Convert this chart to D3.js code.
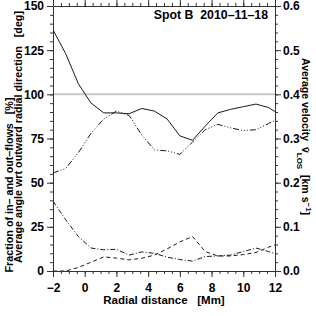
<!DOCTYPE html>
<html>
<head>
<meta charset="utf-8">
<script src="https://cdn.jsdelivr.net/npm/d3@7"></script>
<style>
  html, body { margin: 0; padding: 0; background: #fff; }
  svg { display: block; font-family: "Liberation Sans", Arial, sans-serif; font-weight: bold; }
</style>
</head>
<body>
<svg id="chart" width="316" height="316"></svg>
<script>
// radial distance samples [Mm]
const radius = [-2, -1.2, -0.4, 0.4, 1.2, 2.0, 2.8, 3.6, 4.4, 5.2, 6.0, 6.8, 7.6, 8.4, 9.2, 10.0, 10.8, 11.6, 12.4];
// average angle wrt outward radial direction [deg]
const angle = [136.5, 123, 106, 95, 89.5, 89.5, 89, 92, 90.5, 86, 76.5, 74, 82, 89.5, 91.5, 93, 94.5, 92.5, 88];
// average LOS velocity [km/s]
const velocity = [0.222, 0.232, 0.268, 0.312, 0.344, 0.362, 0.352, 0.308, 0.274, 0.272, 0.264, 0.292, 0.320, 0.332, 0.324, 0.318, 0.320, 0.334, 0.348];
// fraction of flows [%]
const fractionA = [39.5, 29, 19.5, 13, 12, 12.3, 9, 10.8, 10, 7.8, 6.5, 5.6, 8.2, 8.5, 9, 11, 13, 11, 8.5];
const fractionB = [0, 0, 2, 5, 8, 7.3, 6.3, 7.2, 9, 12.5, 16.5, 19.5, 11, 8.5, 8.5, 9.3, 10.5, 13.5, 16];

const leftTicks = [0, 25, 50, 75, 100, 125, 150];
const rightTicks = [0, 0.1, 0.2, 0.3, 0.4, 0.5, 0.6];
const xTicks = [-2, 0, 2, 4, 6, 8, 10, 12];

const svg = d3.select('#chart');
const pLeft = 53, pRight = 275, pTop = 6, pBottom = 271;
const axisColor = '#333';

const x = d3.scaleLinear().domain([-2, 12]).range([pLeft, pRight]);
const yL = d3.scaleLinear().domain([0, 150]).range([pBottom, pTop]);
const yR = d3.scaleLinear().domain([0, 0.6]).range([pBottom, pTop]);

svg.append('clipPath').attr('id', 'plotClip')
  .append('rect')
  .attr('x', pLeft).attr('y', pTop)
  .attr('width', pRight - pLeft).attr('height', pBottom - pTop);

// reference line at 100
svg.append('line')
  .attr('x1', pLeft).attr('x2', pRight)
  .attr('y1', yL(100)).attr('y2', yL(100))
  .attr('stroke', '#c8c8c8').attr('stroke-width', 2);

// draw one axis with major + minor ticks
function drawAxis(axisFn, scale, major, minor, transform, fmt, pad) {
  svg.append('g')
    .attr('transform', transform)
    .call(axisFn(scale).tickValues(minor).tickSize(3).tickFormat(''))
    .call(g => g.select('.domain').remove())
    .call(g => g.selectAll('line').attr('stroke', axisColor));
  const g = svg.append('g')
    .attr('transform', transform)
    .call(axisFn(scale).tickValues(major).tickSizeInner(6).tickSizeOuter(0).tickPadding(pad).tickFormat(fmt));
  g.select('.domain').attr('stroke', axisColor);
  g.selectAll('line').attr('stroke', axisColor);
  g.selectAll('text')
    .attr('fill', '#000')
    .style('font-family', '"Liberation Sans", Arial, sans-serif')
    .style('font-weight', 'bold')
    .style('font-size', '12px');
  return g;
}

const xMinor = d3.range(-2, 12.01, 0.5);
drawAxis(d3.axisBottom, x, xTicks, xMinor, `translate(0,${pBottom})`, d3.format('d'), 6);
drawAxis(d3.axisTop, x, xTicks, xMinor, `translate(0,${pTop})`, () => '', 2);
drawAxis(d3.axisLeft, yL, leftTicks, d3.range(0, 150.1, 5), `translate(${pLeft},0)`, d3.format('d'), 3);
drawAxis(d3.axisRight, yR, rightTicks, d3.range(0, 0.601, 0.02), `translate(${pRight},0)`, d3.format('.1f'), 2);

// curves
const plot = svg.append('g').attr('clip-path', 'url(#plotClip)');
function curve(values, yScale, dash) {
  const line = d3.line()
    .x((d, i) => x(radius[i]))
    .y(d => yScale(d));
  plot.append('path')
    .datum(values)
    .attr('d', line)
    .attr('fill', 'none')
    .attr('stroke', '#1a1a1a')
    .attr('stroke-width', 1)
    .attr('stroke-dasharray', dash);
}
curve(angle, yL, null);
curve(velocity, yR, '6,2,1,2,1,2,1,2');
curve(fractionA, yL, '5,2,1,2');
curve(fractionB, yL, '4,3');

// title
svg.append('text')
  .attr('x', 268).attr('y', 19)
  .attr('text-anchor', 'end')
  .style('font-size', '12.3px')
  .attr('xml:space', 'preserve')
  .text('Spot B  2010\u201311\u201318');

// x label
svg.append('text')
  .attr('x', 164).attr('y', 304)
  .attr('text-anchor', 'middle')
  .style('font-size', '11.5px')
  .attr('xml:space', 'preserve')
  .text('Radial distance   [Mm]');

// left labels
svg.append('text')
  .attr('transform', 'translate(12.5,185) rotate(-90)')
  .attr('text-anchor', 'middle')
  .style('font-size', '10.8px')
  .attr('xml:space', 'preserve')
  .attr('textLength', 175)
  .attr('lengthAdjust', 'spacingAndGlyphs')
  .text('Fraction of in\u2013 and out\u2013flows   [%]');
svg.append('text')
  .attr('transform', 'translate(21.5,137) rotate(-90)')
  .attr('text-anchor', 'middle')
  .style('font-size', '10.8px')
  .attr('xml:space', 'preserve')
  .attr('textLength', 252)
  .attr('lengthAdjust', 'spacingAndGlyphs')
  .text('Average angle wrt outward radial direction   [deg]');

// right label
const rl = svg.append('text')
  .attr('transform', 'translate(302,58) rotate(90)')
  .attr('text-anchor', 'start')
  .style('font-size', '10.5px')
  .attr('xml:space', 'preserve');
rl.append('tspan').text('Average velocity  v\u0304');
rl.append('tspan').attr('baseline-shift', 'sub').style('font-size', '8px').text('LOS');
rl.append('tspan').text('  [km s');
rl.append('tspan').attr('baseline-shift', 'super').style('font-size', '8px').text('\u22121');
rl.append('tspan').text(']');
</script>
</body>
</html>
